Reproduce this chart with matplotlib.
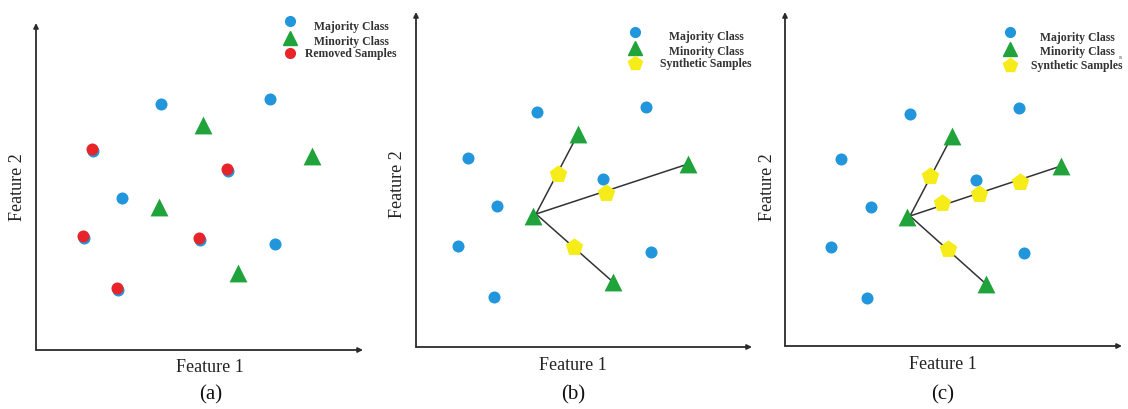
import matplotlib
matplotlib.use("Agg")
import matplotlib.pyplot as plt
from matplotlib.transforms import offset_copy

# ── Data (feature values, origin at axis corner) ──
# panel (a): random under-sampling
a_major_x = [125, 234, 86, 239]
a_major_y = [246, 251, 152, 106]
a_removed_x = [56, 191, 47, 163, 81]
a_removed_y = [201, 181, 114, 112, 62]
a_minor_x = [167, 276, 123, 202]
a_minor_y = [225, 194, 143, 77]

# panel (b): SMOTE
b_major_x = [121, 230, 52, 187, 81, 42, 235, 78]
b_major_y = [235, 240, 189, 168, 141, 101, 95, 50]
b_minor_x = [162, 272, 117, 197]
b_minor_y = [213, 183, 131, 65]
b_synth_x = [142, 190, 158]
b_synth_y = [173, 154, 100]
b_seed = (120, 133)

# panel (c): SMOTE with several synthetic samples per neighbour
c_major_x = [125, 234, 56, 191, 86, 46, 239, 82]
c_major_y = [232, 238, 187, 166, 139, 99, 93, 48]
c_minor_x = [167, 276, 122, 201]
c_minor_y = [210, 180, 129, 62]
c_synth_x = [145, 235, 194, 157, 163]
c_synth_y = [170, 164, 152, 143, 97]
c_seed = (125, 130)

BLUE, GREEN, RED, YELLOW = "#2196dc", "#1fa33a", "#e8232a", "#f6ec1a"
AXC, LINEC = "#2b2b2b", "#333333"
SERIF = ["Liberation Serif", "DejaVu Serif"]

W, H = 1128, 410
fig = plt.figure(figsize=(W / 100, H / 100), dpi=100)
fig.patch.set_facecolor("white")


def fx(px):
    return px / W


def fy(py):
    return 1 - py / H


def panel(ox, oy, w, h):
    ax = fig.add_axes([fx(ox), fy(oy), w / W, h / H])
    ax.set_xlim(0, w)
    ax.set_ylim(0, h)
    ax.axis("off")
    for end in [(1, 0), (0, 1)]:
        ax.annotate("", xy=end, xytext=(0, 0), xycoords="axes fraction",
                    arrowprops=dict(arrowstyle="-|>", color=AXC, lw=1.3,
                                    mutation_scale=7, shrinkA=0, shrinkB=0))
    return ax


def labels(xlab, ylab, tag):
    fig.text(fx(xlab[0]), fy(xlab[1]), "Feature 1", ha="center", va="center",
             fontsize=13, family=SERIF, color="#222222")
    fig.text(fx(ylab[0]), fy(ylab[1]), "Feature 2", ha="center", va="center",
             rotation=90, fontsize=13, family=SERIF, color="#222222")
    fig.text(fx(tag[0]), fy(tag[1]), tag[2], ha="center", va="center",
             fontsize=15, family=SERIF, color="#111111")


def legend(entries, mx, tx):
    for (marker, color, ms, text, my, ty) in entries:
        fig.lines.append(plt.Line2D([fx(mx)], [fy(my)], marker=marker, ms=ms,
                                    color=color, mec=color, ls="none",
                                    transform=fig.transFigure))
        fig.text(fx(tx), fy(ty), text, ha="center", va="center", fontsize=8.5,
                 fontweight="bold", family=SERIF, color="#333333")


S_DOT, S_TRI, S_PENT = 75, 165, 175

# ── (a) ──
ax = panel(36, 351, 327, 327)
ax.scatter(a_major_x, a_major_y, s=S_DOT, c=BLUE, lw=0, zorder=3)
under = offset_copy(ax.transData, fig=fig, x=0.7, y=-1.4, units="points")
ax.scatter(a_removed_x, a_removed_y, s=S_DOT, c=BLUE, lw=0, zorder=3,
           transform=under)
ax.scatter(a_removed_x, a_removed_y, s=S_DOT, c=RED, lw=0, zorder=4)
ax.scatter(a_minor_x, a_minor_y, s=S_TRI, c=GREEN, marker="^", lw=0, zorder=4)
labels((210, 368), (18, 187), (211, 395, "(a)"))
legend([("o", BLUE, 7, "Majority Class", 22, 27),
        ("^", GREEN, 9.5, "Minority Class", 39, 42),
        ("o", RED, 7, "Removed Samples", 54, 54)], 290, 351)

# ── (b) ──
ax = panel(416, 348, 336, 335)
for x, y in zip(b_minor_x, b_minor_y):
    if (x, y) != (117, 131):
        ax.plot([b_seed[0], x], [b_seed[1], y], color=LINEC, lw=1.1, zorder=2)
ax.scatter(b_major_x, b_major_y, s=S_DOT, c=BLUE, lw=0, zorder=3)
ax.scatter(b_minor_x, b_minor_y, s=S_TRI, c=GREEN, marker="^", lw=0, zorder=4)
ax.scatter(b_synth_x, b_synth_y, s=S_PENT, c=YELLOW, marker="p", lw=0, zorder=5)
labels((573, 366), (397, 184), (573, 395, "(b)"))
legend([("o", BLUE, 7, "Majority Class", 33, 37),
        ("^", GREEN, 9.5, "Minority Class", 49, 52),
        ("p", YELLOW, 10.5, "Synthetic Samples", 64, 64)], 635, 706)

# ── (c) ──
ax = panel(785, 347, 337, 334)
for x, y in zip(c_minor_x, c_minor_y):
    if (x, y) != (122, 129):
        ax.plot([c_seed[0], x], [c_seed[1], y], color=LINEC, lw=1.1, zorder=2)
ax.scatter(c_major_x, c_major_y, s=S_DOT, c=BLUE, lw=0, zorder=3)
ax.scatter(c_minor_x, c_minor_y, s=S_TRI, c=GREEN, marker="^", lw=0, zorder=4)
ax.scatter(c_synth_x, c_synth_y, s=S_PENT, c=YELLOW, marker="p", lw=0, zorder=5)
labels((943, 365), (768, 187), (943, 395, "(c)"))
legend([("o", BLUE, 7, "Majority Class", 33, 38),
        ("^", GREEN, 9.5, "Minority Class", 50, 52),
        ("p", YELLOW, 10.5, "Synthetic Samples", 66, 66)], 1010, 1077)
fig.text(fx(1121), fy(58), "IS", fontsize=3.5, family=SERIF, color="#555555",
         ha="center", va="center")

fig.savefig("out.png", dpi=100, facecolor="white")
